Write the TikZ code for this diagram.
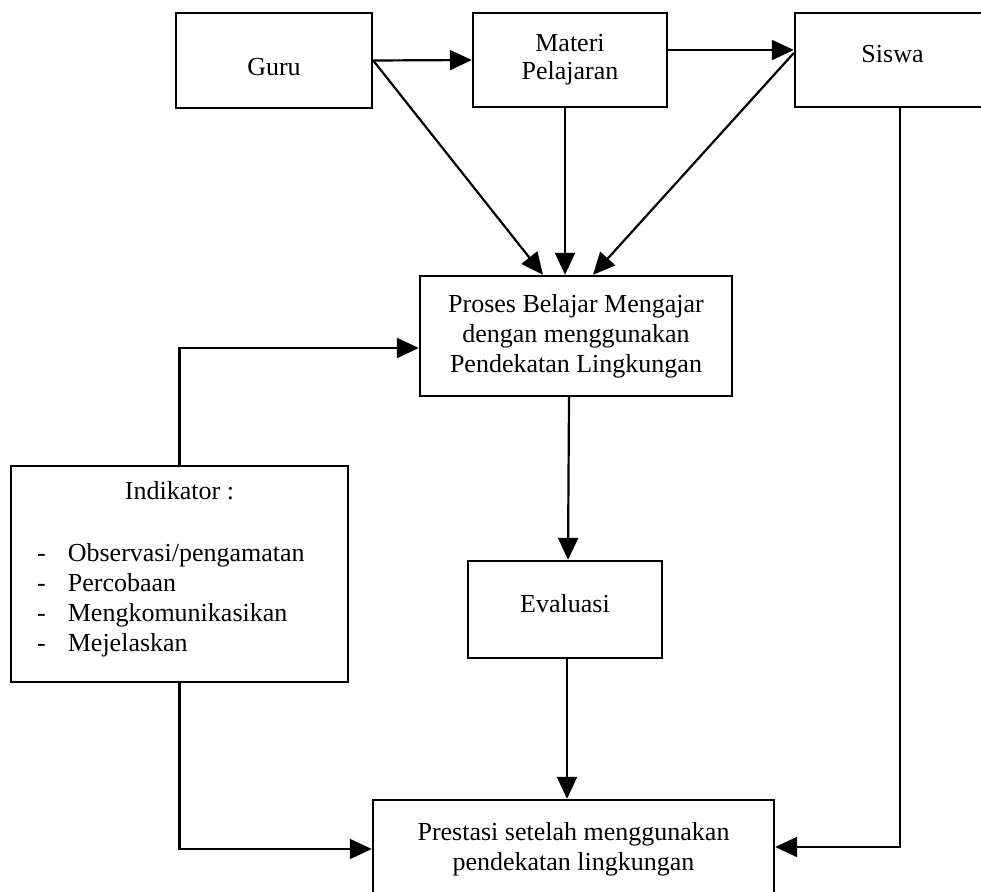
\documentclass[tikz,border=0pt]{standalone}
\usepackage{fontspec}
\setmainfont{Liberation Serif}
\usetikzlibrary{arrows.meta}
\tikzset{
  box/.style={draw, line width=2.4pt, inner sep=0pt, align=center, font=\fontsize{26}{30}\selectfont},
  arr/.style={line width=2.2pt, -{Triangle[length=22pt,width=20pt]}},
  txt/.style={inner sep=0pt, anchor=base west, font=\fontsize{26}{30}\selectfont},
}
\begin{document}
\begin{tikzpicture}[x=1pt,y=-1pt]
\useasboundingbox (0,0) rectangle (981,891);
% boxes
\node[box, minimum width=196pt, minimum height=95pt, text height=29pt, text depth=0pt] (guru) at (274,60.5) {Guru};
\node[box, minimum width=194pt, minimum height=94pt, font=\fontsize{26}{28}\selectfont] (materi) at (570,60) {Materi\\Pelajaran};
\node[box, minimum width=195pt, minimum height=94pt, text height=18pt, text depth=12pt] (siswa) at (892.5,60) {Siswa};
\node[box, minimum width=312pt, minimum height=120pt] (proses) at (576,336) {Proses Belajar Mengajar\\dengan menggunakan\\Pendekatan Lingkungan};
\node[box, minimum width=337pt, minimum height=216pt] (indikator) at (179.5,574) {};
\node[box, minimum width=194pt, minimum height=97pt, text height=18pt, text depth=13pt] (evaluasi) at (565,609.5) {Evaluasi};
\node[box, minimum width=401pt, minimum height=98pt] (prestasi) at (573.5,849) {Prestasi setelah menggunakan\\pendekatan lingkungan};
% indikator text
\node[txt, anchor=base] (indtitle) at (179.5,499) {Indikator :};
\node[txt] (ind1) at (37,561) {-\hspace{22pt}Observasi/pengamatan};
\node[txt] (ind2) at (37,591) {-\hspace{22pt}Percobaan};
\node[txt] (ind3) at (37,621) {-\hspace{22pt}Mengkomunikasikan};
\node[txt] (ind4) at (37,651) {-\hspace{22pt}Mejelaskan};
% connectors
\draw[arr] (guru.east) -- (materi.west);
\draw[arr] ([yshift=10pt]materi.east) -- ([yshift=10pt]siswa.west);
\draw[arr] (guru.east) -- ([xshift=-33pt]proses.north);
\draw[arr] ([xshift=-5pt]materi.south) -- ([xshift=-11pt]proses.north);
\draw[arr] ([yshift=7pt]siswa.west) -- ([xshift=17pt]proses.north);
\draw[arr] (indikator.north) |- ([yshift=-12pt]proses.west);
\draw[arr] ([xshift=-7pt]proses.south) -- ([xshift=3pt]evaluasi.north);
\draw[arr] ([xshift=2pt]evaluasi.south) -- ([xshift=-6.5pt]prestasi.north);
\draw[arr] (indikator.south) |- ([yshift=0pt]prestasi.west);
\draw[arr] ([xshift=7.5pt]siswa.south) |- ([yshift=2pt]prestasi.east);
\end{tikzpicture}
\end{document}
